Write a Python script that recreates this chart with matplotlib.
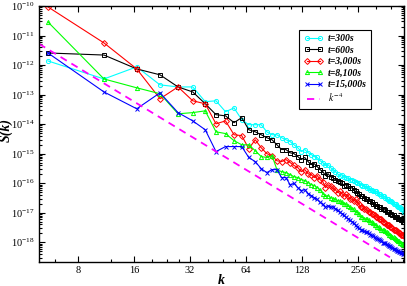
import numpy as np
import matplotlib
matplotlib.use("Agg")
import matplotlib.pyplot as plt
from matplotlib.ticker import LogLocator, FixedLocator, NullFormatter, FixedFormatter, LogFormatterMathtext

plt.rcParams['font.family'] = ['Liberation Serif', 'DejaVu Serif']
plt.rcParams['mathtext.fontset'] = 'stix'

# wavenumber grid (uniform spacing)
dk = 5.52
k = dk * np.arange(1, 83)

# log10 S(k)
log_s_300 = [-11.86, -12.47, -12.06, -12.67, -12.74, -12.74, -13.24, -13.21, -13.58, -13.45,
             -13.85, -14.02, -14.02, -14.02, -14.26, -14.36, -14.36, -14.46, -14.53, -14.59,
             -14.70, -14.80, -14.93, -14.86, -14.97, -15.03, -15.10, -15.13, -15.24, -15.30,
             -15.40, -15.37, -15.47, -15.54, -15.61, -15.68, -15.74, -15.71, -15.78, -15.81,
             -15.84, -15.88, -15.88, -15.91, -15.95, -15.98, -16.01, -16.05, -16.08, -16.11,
             -16.11, -16.15, -16.18, -16.22, -16.22, -16.25, -16.28, -16.28, -16.32, -16.35,
             -16.38, -16.42, -16.42, -16.45, -16.49, -16.52, -16.55, -16.59, -16.59, -16.62,
             -16.65, -16.69, -16.72, -16.72, -16.76, -16.79, -16.82, -16.82, -16.86, -16.89,
             -16.92, -16.96]
log_s_600 = [-11.59, -11.66, -12.13, -12.33, -12.74, -12.91, -13.31, -13.68, -13.72, -13.95,
             -13.78, -14.19, -14.26, -14.36, -14.46, -14.53, -14.70, -14.86, -14.86, -14.97,
             -15.00, -15.10, -15.20, -15.13, -15.27, -15.37, -15.34, -15.44, -15.54, -15.61,
             -15.74, -15.68, -15.78, -15.81, -15.88, -15.91, -15.95, -16.01, -16.08, -16.05,
             -16.11, -16.18, -16.15, -16.22, -16.28, -16.32, -16.38, -16.42, -16.45, -16.49,
             -16.52, -16.55, -16.59, -16.62, -16.65, -16.69, -16.72, -16.76, -16.76, -16.79,
             -16.82, -16.86, -16.89, -16.89, -16.92, -16.96, -16.99, -16.99, -17.03, -17.06,
             -17.09, -17.09, -17.13, -17.16, -17.16, -17.20, -17.20, -17.23, -17.26, -17.26,
             -17.30, -17.30]
log_s_3000 = [-10.03, -11.25, -12.13, -13.14, -12.74, -13.21, -13.31, -13.99, -13.89, -14.36,
              -14.39, -14.83, -14.53, -14.80, -15.00, -15.07, -15.24, -15.27, -15.20, -15.30,
              -15.40, -15.47, -15.61, -15.54, -15.68, -15.71, -15.81, -15.74, -15.88, -15.95,
              -16.15, -16.05, -16.11, -16.18, -16.22, -16.32, -16.28, -16.35, -16.42, -16.38,
              -16.45, -16.52, -16.55, -16.59, -16.55, -16.65, -16.72, -16.82, -16.79, -16.86,
              -16.89, -16.92, -16.99, -16.96, -17.03, -17.06, -17.09, -17.13, -17.16, -17.20,
              -17.23, -17.23, -17.30, -17.30, -17.36, -17.40, -17.43, -17.43, -17.47, -17.50,
              -17.53, -17.57, -17.60, -17.60, -17.63, -17.67, -17.70, -17.70, -17.74, -17.77,
              -17.77, -17.80]
log_s_8100 = [-10.54, -12.47, -12.77, -12.97, -13.65, -13.61, -13.55, -14.26, -14.32, -14.56,
              -14.70, -14.70, -14.90, -15.10, -15.13, -15.07, -15.54, -15.61, -15.64, -15.71,
              -15.78, -15.81, -15.88, -15.91, -15.98, -16.05, -16.08, -16.15, -16.22, -16.35,
              -16.45, -16.42, -16.49, -16.52, -16.55, -16.59, -16.62, -16.65, -16.69, -16.72,
              -16.76, -16.82, -16.86, -16.89, -16.96, -16.99, -17.06, -17.13, -17.16, -17.20,
              -17.23, -17.23, -17.26, -17.30, -17.33, -17.36, -17.40, -17.43, -17.47, -17.50,
              -17.53, -17.57, -17.60, -17.60, -17.63, -17.67, -17.70, -17.74, -17.77, -17.80,
              -17.84, -17.84, -17.87, -17.90, -17.94, -17.97, -17.97, -18.01, -18.04, -18.07,
              -18.07, -18.11]
log_s_15000 = [-11.59, -12.91, -13.48, -12.94, -13.61, -13.89, -14.19, -14.93, -14.76, -14.76,
               -14.76, -15.13, -15.27, -15.51, -15.64, -15.54, -15.54, -15.81, -15.81, -16.05,
               -16.01, -16.15, -16.25, -16.22, -16.35, -16.42, -16.49, -16.55, -16.65, -16.72,
               -16.82, -16.76, -16.82, -16.79, -16.86, -16.92, -16.99, -17.03, -17.09, -17.16,
               -17.20, -17.26, -17.30, -17.36, -17.43, -17.47, -17.53, -17.57, -17.60, -17.63,
               -17.67, -17.67, -17.70, -17.74, -17.77, -17.80, -17.84, -17.87, -17.90, -17.90,
               -17.94, -17.97, -18.01, -18.01, -18.04, -18.07, -18.11, -18.14, -18.14, -18.17,
               -18.21, -18.24, -18.24, -18.28, -18.31, -18.31, -18.34, -18.34, -18.38, -18.38,
               -18.41, -18.41]

# k^-4 guide line end points
k_ref = [4.94, 380.0]
log_s_ref = [-11.28, -18.51]

labels = ["t=300s", "t=600s", "t=3,000s", "t=8,100s", "t=15,000s"]
series = [log_s_300, log_s_600, log_s_3000, log_s_8100, log_s_15000]
colors = ["#00ffff", "#000000", "#ff0000", "#00ff00", "#0000ff"]
markers = ["o", "s", "D", "^", "x"]

fig = plt.figure(figsize=(4.07, 2.86), dpi=100)
ax = fig.add_axes([0.0958, 0.0839, 0.897, 0.895])

for lab, ls, c, m in zip(labels, series, colors, markers):
    ax.plot(k, 10.0 ** np.array(ls), color=c, lw=0.8, marker=m, ms=3.0,
            mfc='none', mec=c, mew=0.7, label=lab)

ax.plot(k_ref, 10.0 ** np.array(log_s_ref), color="#ff00ff", lw=1.3,
        ls=(0, (4, 3)), label=r"$\boldsymbol{k^{-4}}$")

ax.set_xscale('log')
ax.set_yscale('log')
ax.set_xlim(4.94, 452.6)
ax.set_ylim(10 ** -18.67, 1e-10)

ax.xaxis.set_major_locator(FixedLocator([8, 16, 32, 64, 128, 256]))
ax.xaxis.set_major_formatter(FixedFormatter(["8", "16", "32", "64", "128", "256"]))
ax.xaxis.set_minor_locator(FixedLocator([6, 12, 20, 24, 28, 40, 48, 56, 80, 96, 112,
                                         160, 192, 224, 320, 384, 448]))
ax.xaxis.set_minor_formatter(NullFormatter())
ax.yaxis.set_major_locator(FixedLocator(10.0 ** np.arange(-18, -9)))
ax.yaxis.set_major_formatter(LogFormatterMathtext())
ax.yaxis.set_minor_locator(LogLocator(base=10, subs=np.arange(2, 10), numticks=20))
ax.yaxis.set_minor_formatter(NullFormatter())

ax.tick_params(which='both', direction='in', top=True, right=True, labelsize=7.5, width=0.8)
ax.tick_params(which='major', length=4.5, pad=3)
ax.tick_params(which='minor', length=2.3)
for sp in ax.spines.values():
    sp.set_linewidth(1.0)

ax.set_xlabel("k", fontsize=10, fontweight='bold', style='italic')
ax.set_ylabel("S(k)", fontsize=10, fontweight='bold', style='italic')
ax.xaxis.set_label_coords(0.5, -0.047)
ax.yaxis.set_label_coords(-0.072, 0.516)

leg = ax.legend(loc='upper left', bbox_to_anchor=(0.70, 0.926),
                prop={'style': 'italic', 'weight': 'bold', 'size': 7},
                frameon=True, fancybox=False, edgecolor='black', framealpha=1,
                handlelength=2.0, numpoints=2, labelspacing=0.25, borderpad=0.45,
                handletextpad=0.5)
leg.get_frame().set_linewidth(0.8)

fig.savefig("out.png", dpi=100)
